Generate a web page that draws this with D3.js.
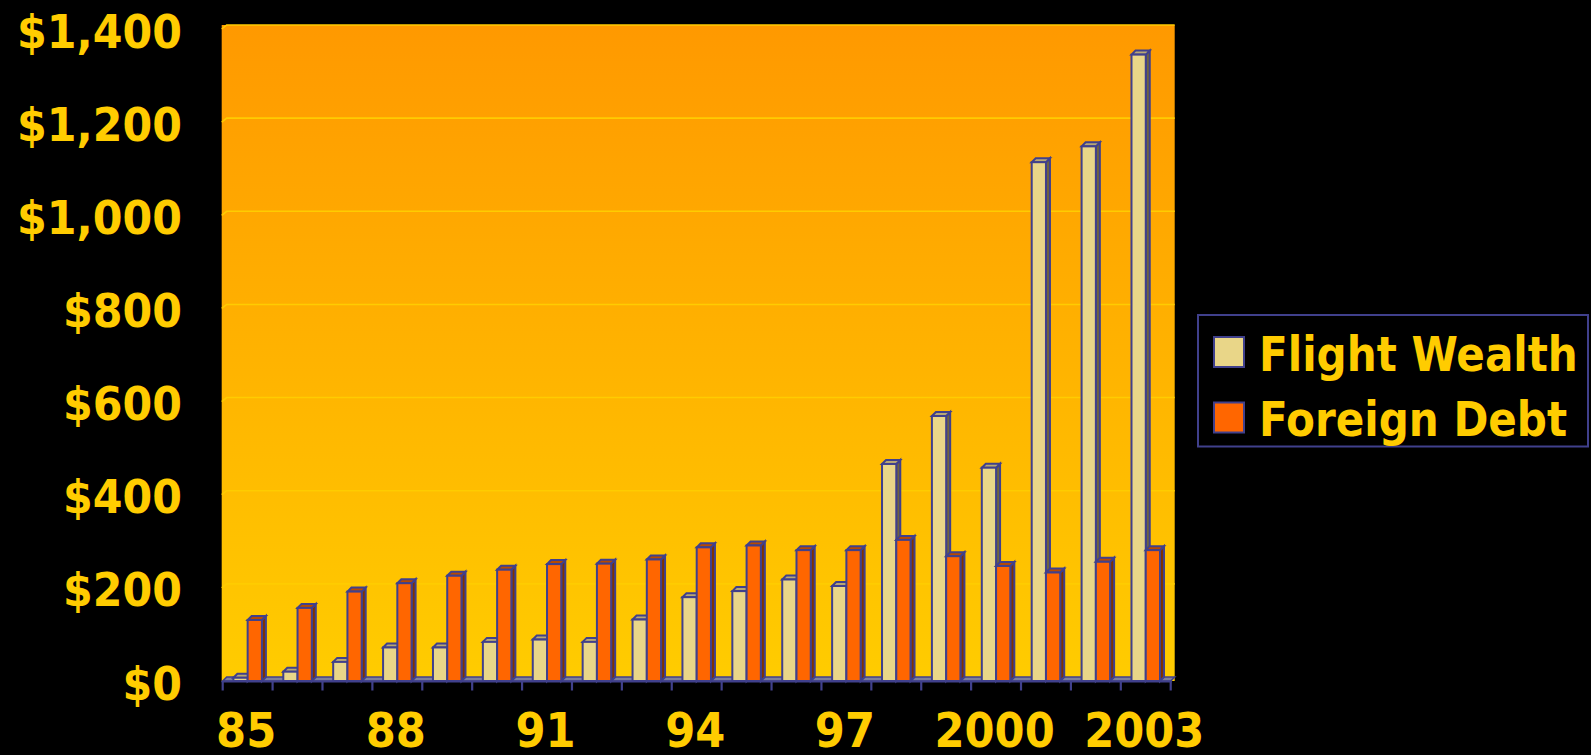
<!DOCTYPE html>
<html>
<head>
<meta charset="utf-8">
<script src="https://cdn.jsdelivr.net/npm/d3@7"></script>
<style>
  html, body { margin: 0; padding: 0; background: #000; }
  svg { display: block; }
  text { font-family: "DejaVu Sans", Verdana, sans-serif; font-weight: bold; fill: #FFCC00; }
</style>
</head>
<body>
<script>
// Years on the category axis
const categories = ["85","86","87","88","89","90","91","92","93","94","95","96","97","98","99","2000","2001","2002","2003"];
// Labels shown under the axis (every third year)
const xTickLabels = ["85","88","91","94","97","2000","2003"];
// Series names
const seriesNames = ["Flight Wealth", "Foreign Debt"];
// Values in $ billions
const flightWealth = [7, 20, 41, 72, 72, 84, 89, 84, 132, 180, 193, 218, 204, 466, 569, 458, 1114, 1148, 1345];
const foreignDebt  = [131, 157, 192, 210, 226, 239, 251, 252, 261, 287, 291, 281, 281, 303, 268, 247, 233, 256, 281];
// Value axis ticks
const yTicks = [0, 200, 400, 600, 800, 1000, 1200, 1400];

const W = 1591, H = 755;
const left = 222.7, right = 1170.7, base = 681, topY = 29;
const dx = 4, dy = 4;               // depth offset of the 3D box
const outline = "#40408C";

const colors = {
  "Flight Wealth": { front: "#E9D688", side: "#6E6440", top: "#B8A874" },
  "Foreign Debt":  { front: "#FF6600", side: "#7F3300", top: "#B84A00" }
};

const svg = d3.select("body").append("svg").attr("width", W).attr("height", H);

const x = d3.scaleBand().domain(categories).range([left, right]).padding(0);
const xs = d3.scaleBand().domain(seriesNames).range([0, x.bandwidth()]).paddingInner(0).paddingOuter(0.75);
const y = d3.scaleLinear().domain([0, 1400]).range([base, topY]);

// Back wall with gradient
const defs = svg.append("defs");
const grad = defs.append("linearGradient").attr("id", "wallGrad").attr("x1", 0).attr("y1", 0).attr("x2", 0).attr("y2", 1);
grad.append("stop").attr("offset", "0%").attr("stop-color", "#FF9900");
grad.append("stop").attr("offset", "100%").attr("stop-color", "#FFCC00");

svg.append("rect")
  .attr("x", left - 1).attr("y", y(1400) - dy)
  .attr("width", right + dx - left + 1).attr("height", base - (y(1400) - dy))
  .attr("fill", "url(#wallGrad)");

// Gridlines on the back wall, with the short bevel at the side edge
const grid = svg.append("g").attr("stroke", "#FFCC00").attr("stroke-width", 1.6).attr("fill", "none");
yTicks.filter(v => v > 0).forEach(v => {
  const yb = y(v) - dy;
  grid.append("path").attr("d", `M${left - 1},${yb + dy} L${left + dx},${yb} L${right + dx},${yb}`);
});

// Floor slab
svg.append("path")
  .attr("d", `M${left},${base} L${left + dx},${base - dy} L${right + dx},${base - dy} L${right},${base} Z`)
  .attr("fill", "#80809A").attr("stroke", outline).attr("stroke-width", 1.6);

// Bars drawn as front, side and top faces
const bars = svg.append("g").attr("stroke", outline).attr("stroke-width", 2).attr("stroke-linejoin", "miter");
categories.forEach((c, i) => {
  seriesNames.forEach((s, si) => {
    const v = si === 0 ? flightWealth[i] : foreignDebt[i];
    const x0 = x(c) + xs(s), x1 = x0 + xs.bandwidth();
    const yt = y(v);
    const col = colors[s];
    const g = bars.append("g");
    g.append("path")
      .attr("d", `M${x1},${yt} L${x1 + dx},${yt - dy} L${x1 + dx},${base - dy} L${x1},${base} Z`)
      .attr("fill", col.side);
    g.append("path")
      .attr("d", `M${x0},${yt} L${x0 + dx},${yt - dy} L${x1 + dx},${yt - dy} L${x1},${yt} Z`)
      .attr("fill", col.top);
    g.append("rect")
      .attr("x", x0).attr("y", yt).attr("width", x1 - x0).attr("height", base - yt)
      .attr("fill", col.front);
  });
});

// Category axis line and tick marks
const axis = svg.append("g").attr("stroke", outline).attr("stroke-width", 2.2);
axis.append("line").attr("x1", left - 1).attr("x2", right + 1).attr("y1", base + 0.5).attr("y2", base + 0.5);
categories.concat(["end"]).forEach((c, i) => {
  const xt = i < categories.length ? x(c) : right;
  axis.append("line").attr("x1", xt).attr("x2", xt).attr("y1", base).attr("y2", base + 9.5);
});

// Horizontally compressed bold text helper
function label(parent, txt, px, py, size, anchor, sx) {
  return parent.append("text")
    .attr("transform", `translate(${px},${py}) scale(${sx},1)`)
    .attr("text-anchor", anchor)
    .attr("font-size", size)
    .text(txt);
}

// Value axis labels
const yFmt = d3.format("$,");
yTicks.forEach(v => label(svg, yFmt(v), 182, y(v) + 18.5, 46, "end", 0.93));

// Category labels
xTickLabels.forEach(t => label(svg, t, x(t) + x.bandwidth() / 2 - 1.5, 747, 48, "middle", 0.9));

// Legend
const lg = svg.append("g");
lg.append("rect").attr("x", 1198).attr("y", 315).attr("width", 390).attr("height", 131.5)
  .attr("fill", "#000").attr("stroke", outline).attr("stroke-width", 2);
seriesNames.forEach((s, i) => {
  const yy = 337 + i * 65.5;
  lg.append("rect").attr("x", 1214).attr("y", yy).attr("width", 30).attr("height", 30)
    .attr("fill", colors[s].front).attr("stroke", outline).attr("stroke-width", 2);
  label(lg, s, 1259, yy + 33.5, 48, "start", 0.877);
});
</script>
</body>
</html>
